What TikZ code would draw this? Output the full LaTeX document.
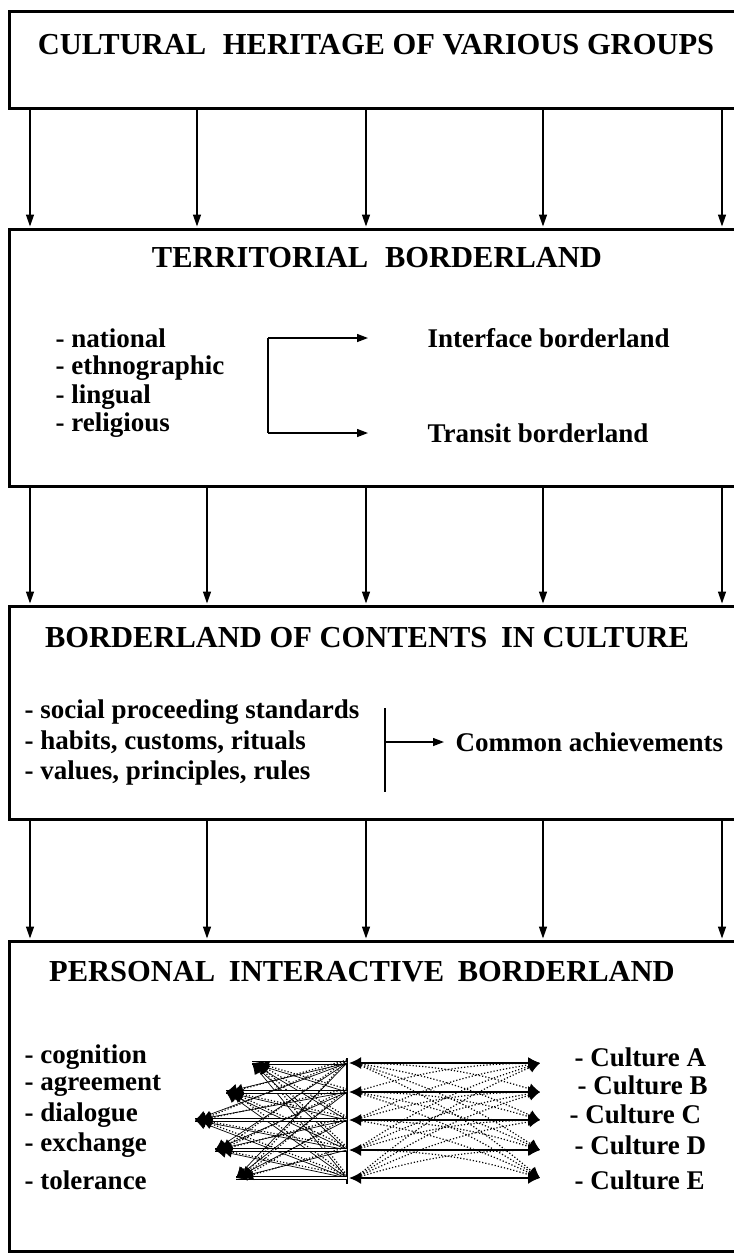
\documentclass[tikz,border=0pt]{standalone}
\usepackage{fontspec}
\newfontfamily\fa{Liberation Serif}
\usetikzlibrary{arrows.meta}
\begin{document}
\begin{tikzpicture}[x=1pt,y=-1pt,
  box/.style={draw, line width=3pt, anchor=north west, inner sep=0pt, minimum width=740pt},
  head/.style={font=\fa\bfseries\fontsize{30.5}{32}\selectfont},
  item/.style={font=\fa\bfseries\fontsize{27}{29}\selectfont, anchor=west},
  flow/.style={line width=1.4pt, shorten >=1.5pt, -{Triangle[length=12pt,width=8pt]}},
  link/.style={line width=1.3pt, -{Triangle[length=11pt,width=8pt]}},
  net/.style={line width=0.7pt, -{Latex[length=11pt,width=11pt]}},
  netdot/.style={line width=1.2pt, dotted, -{Latex[length=11pt,width=11pt]}},
  bar/.style={line width=1.4pt},
]
\useasboundingbox (0,0) rectangle (734,1254);

% boxes
\node[box, minimum height=97pt] (b1) at (8,10) {};
\node[box, minimum height=257pt] (b2) at (8,228) {};
\node[box, minimum height=213pt] (b3) at (8,605) {};
\node[box, minimum height=310pt] (b4) at (8,940) {};

% connectors between boxes
\foreach \x in {30,197,366,543,722}{
  \coordinate (c) at (\x,0);
  \draw[flow] (b1.south -| c) -- (b2.north -| c);
}
\foreach \x in {30,207,366,543,722}{
  \coordinate (c) at (\x,0);
  \draw[flow] (b2.south -| c) -- (b3.north -| c);
  \draw[flow] (b3.south -| c) -- (b4.north -| c);
}

% box 1
\node[head] (t1) at (376,45) {CULTURAL\hspace{0.3em} HERITAGE OF VARIOUS GROUPS};

% box 2
\node[head] (t2) at (377,258) {TERRITORIAL\hspace{0.3em} BORDERLAND};
\node[item] (n1) at (52,338) {- national};
\node[item] (n2) at (52,368) {- ethnographic};
\node[item] (n3) at (52,397) {- lingual};
\node[item] (n4) at (52,425) {- religious};
\node[item] (if) at (424,338) {Interface borderland};
\node[item] (tr) at (424,433) {Transit borderland};
\coordinate (k1) at (268,338);
\coordinate (k2) at (268,433);
\draw[bar] (k1) -- (k2);
\draw[link] (k1) -- ([xshift=-56pt]if.west);
\draw[link] (k2) -- ([xshift=-56pt]tr.west);

% box 3
\node[head] (t3) at (367,638) {BORDERLAND OF CONTENTS\hspace{0.2em} IN CULTURE};
\node[item] (s1) at (21,712) {- social proceeding standards};
\node[item] (s2) at (21,742) {- habits, customs, rituals};
\node[item] (s3) at (21,773) {- values, principles, rules};
\node[item] (ca) at (452,742) {Common achievements};
\coordinate (v1) at (385,708);
\coordinate (v2) at (385,792);
\coordinate (v0) at (385,742);
\draw[bar] (v1) -- (v2);
\draw[link] (v0) -- ([xshift=-8pt]ca.west);

% box 4
\node[head] (t4) at (362,972) {PERSONAL\hspace{0.2em} INTERACTIVE\hspace{0.2em} BORDERLAND};
\node[item] (p1) at (21,1057) {- cognition};
\node[item] (p2) at (21,1086) {- agreement};
\node[item] (p3) at (21,1115) {- dialogue};
\node[item] (p4) at (21,1145) {- exchange};
\node[item] (p5) at (21,1180) {- tolerance};
\node[item] (q1) at (571,1057) {- Culture A};
\node[item] (q2) at (574,1085) {- Culture B};
\node[item] (q3) at (566,1114) {- Culture C};
\node[item] (q4) at (571,1145) {- Culture D};
\node[item] (q5) at (571,1180) {- Culture E};

% interaction net
\foreach \i/\lx/\y in {1/252/1063, 2/226/1092, 3/195/1120, 4/215/1150, 5/236/1178}{
  \coordinate (L\i) at (\lx,\y);
  \coordinate (M\i) at (347,\y);
  \coordinate (R\i) at (540,\y);
}
\coordinate (V1) at (347,1058);
\coordinate (V2) at (347,1184);
\draw[bar] (V1) -- (V2);
\foreach \i in {1,...,5}{
  \draw[line width=0.7pt, double distance=2pt] (L\i) -- (M\i);
  \draw[line width=1.8pt, {Latex[length=12pt,width=12pt]}-{Latex[length=12pt,width=12pt]}] ([xshift=2pt]M\i) -- (R\i);
  \foreach \j in {1,...,5}{
    \ifnum\i=\j\else
      \draw[net] (M\j) -- (L\i);
      \draw[netdot] ([yshift=3pt]M\j) -- ([xshift=6pt]L\i);
      \draw[netdot] ([xshift=8pt]M\i) to[bend left=8] (R\j);
    \fi
  }
}
\end{tikzpicture}
\end{document}
